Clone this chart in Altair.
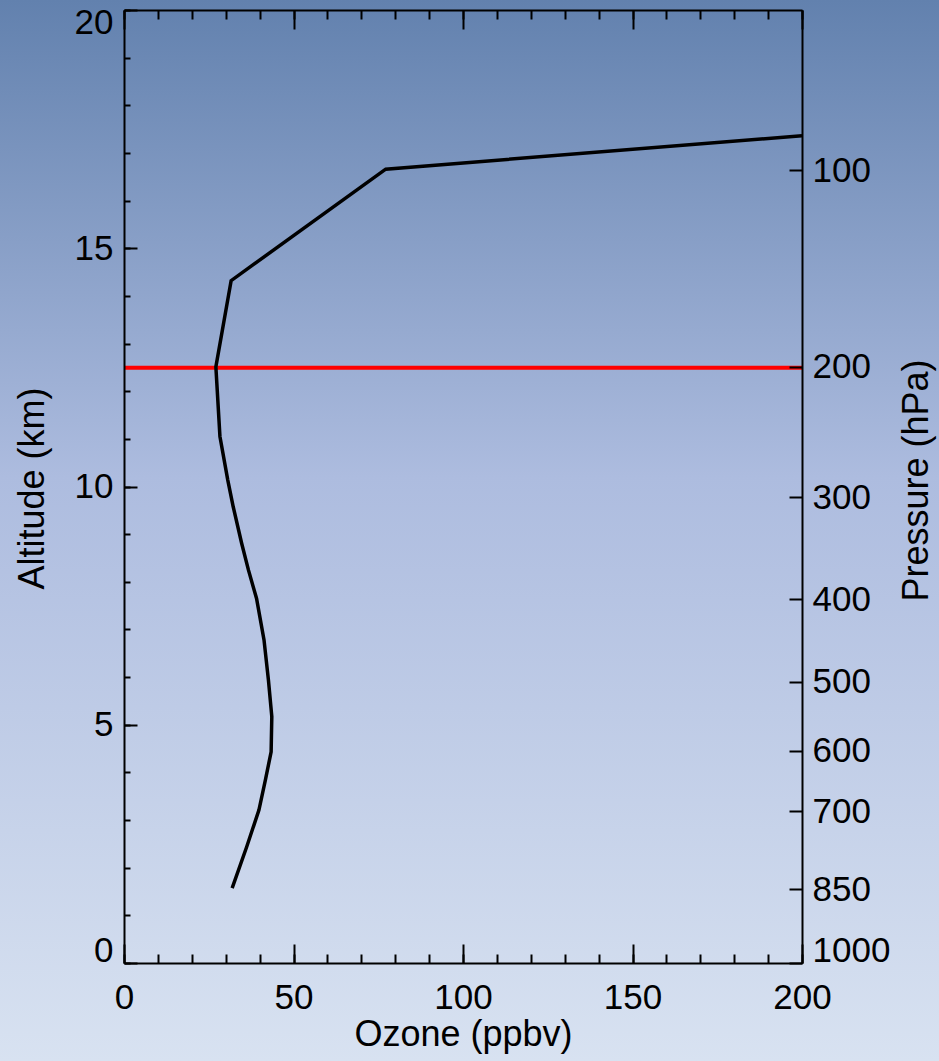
import altair as alt
import pandas as pd

# ---- data ----
ozone_ppbv = [31.9, 36.2, 39.8, 41.7, 43.4, 43.6, 42.6, 41.3, 39.1, 36.7,
              34.7, 32.2, 30.6, 28.3, 27.1, 31.6, 77.2, 200.0]
altitude_km = [1.57, 2.44, 3.21, 3.84, 4.43, 5.17, 5.94, 6.78, 7.65, 8.25,
               8.81, 9.58, 10.14, 11.05, 12.51, 14.32, 16.66, 17.36]

pressure_labels = ["100", "200", "300", "400", "500", "600", "700", "850", "1000"]
pressure_alt_km = [16.64, 12.51, 9.77, 7.63, 5.90, 4.45, 3.18, 1.55, 0.0]

tropopause_alt_km = [12.49]

x_major = [0, 50, 100, 150, 200]
x_minor = list(range(0, 201, 10))
y_major = [0, 5, 10, 15, 20]
y_minor = list(range(0, 21, 1))

W, H = 678, 953
FONT = "Liberation Sans, Arial, Helvetica"
LBL = 35
TTL = 36

df = pd.DataFrame({"ozone": ozone_ppbv, "alt": altitude_km,
                   "i": list(range(len(ozone_ppbv)))})
df_trop = pd.DataFrame({"alt": tropopause_alt_km})

xs = alt.Scale(domain=[0, 200], nice=False, zero=False)
ys = alt.Scale(domain=[0, 20], nice=False, zero=False)

common = dict(grid=False, zindex=1, domainColor="black", domainWidth=2,
              tickColor="black", tickWidth=2, labelColor="black",
              labelFont=FONT, labelFontSize=LBL, titleFont=FONT,
              titleFontSize=TTL, titleColor="black", titleFontWeight="normal")


def tick_axis(orient, offset, values, size, domain=False):
    return alt.Axis(orient=orient, offset=offset, values=values, ticks=True,
                    tickSize=size, labels=False, domain=domain, title="",
                    **common)


press_expr = " : ".join(
    f"abs(datum.value - {a}) < 0.001 ? '{l}'" for a, l in zip(pressure_alt_km, pressure_labels)
) + " : ''"

# axes that carry labels and the frame
ax_bottom = alt.Axis(orient="bottom", values=x_major, ticks=False, tickSize=0,
                     labelPadding=17, domain=True, title="Ozone (ppbv)",
                     titleX=339, titleY=82, titleBaseline="alphabetic",
                     titleAlign="center", labelFlush=False, **common)
ax_left = alt.Axis(orient="left", values=y_major, ticks=False, tickSize=0,
                   labelPadding=11, domain=True, title="Altitude (km)",
                   labelFlush=True, labelFlushOffset=5,
                   titleAngle=270, titleX=-81, titleY=478,
                   titleBaseline="alphabetic", titleAlign="center", **common)
ax_right = alt.Axis(orient="right", values=pressure_alt_km, labelExpr=press_expr,
                    ticks=False, tickSize=0, labelPadding=10, domain=True,
                    title="Pressure (hPa)", labelFlush=True, labelFlushOffset=5,
                    titleAngle=270, titleX=125, titleY=470,
                    titleBaseline="alphabetic", titleAlign="center", **common)

bg = alt.Chart(pd.DataFrame({"a": [0]})).mark_rect(
    color=alt.Gradient(
        gradient="linear",
        stops=[alt.GradientStop(offset=0, color="#6281AE"),
               alt.GradientStop(offset=0.45, color="#ADBCDF"),
               alt.GradientStop(offset=1, color="#D8E2F1")],
        x1=0, x2=0, y1=0, y2=1),
).encode(x=alt.value(-124), x2=alt.value(W + 137),
         y=alt.value(-10), y2=alt.value(H + 98))

red = alt.Chart(df_trop).mark_rule(color="#FF0000", strokeWidth=4).encode(
    y=alt.Y("alt:Q", scale=ys, axis=None))

line = alt.Chart(df).mark_line(color="black", strokeWidth=3.5, clip=True).encode(
    x=alt.X("ozone:Q", scale=xs, axis=ax_bottom),
    y=alt.Y("alt:Q", scale=ys, axis=ax_left),
    order="i:Q")


def ghost(xaxis, yaxis):
    return alt.Chart(df).mark_line(opacity=0).encode(
        x=alt.X("ozone:Q", scale=xs, axis=xaxis),
        y=alt.Y("alt:Q", scale=ys, axis=yaxis),
        order="i:Q")


g1 = ghost(tick_axis("bottom", -H, x_major, 19, domain=True), ax_right)
g2 = ghost(tick_axis("bottom", -H, x_minor, 9),
           tick_axis("right", -W, y_major, 13))
g3 = ghost(tick_axis("top", -H, x_major, 19),
           tick_axis("right", -W, y_minor, 6))
g4 = ghost(tick_axis("top", -H, x_minor, 9),
           tick_axis("left", -W, pressure_alt_km, 13))

chart = alt.layer(bg, red, line, g1, g2, g3, g4).resolve_axis(
    x="independent", y="independent"
).properties(
    width=W, height=H,
    autosize=alt.AutoSizeParams(type="none"),
    padding={"left": 124, "top": 10, "right": 137, "bottom": 98},
    background="#C0CCE8",
).configure_view(strokeWidth=0)

chart.save("out.html", embed_options={"renderer": "svg", "actions": False})
